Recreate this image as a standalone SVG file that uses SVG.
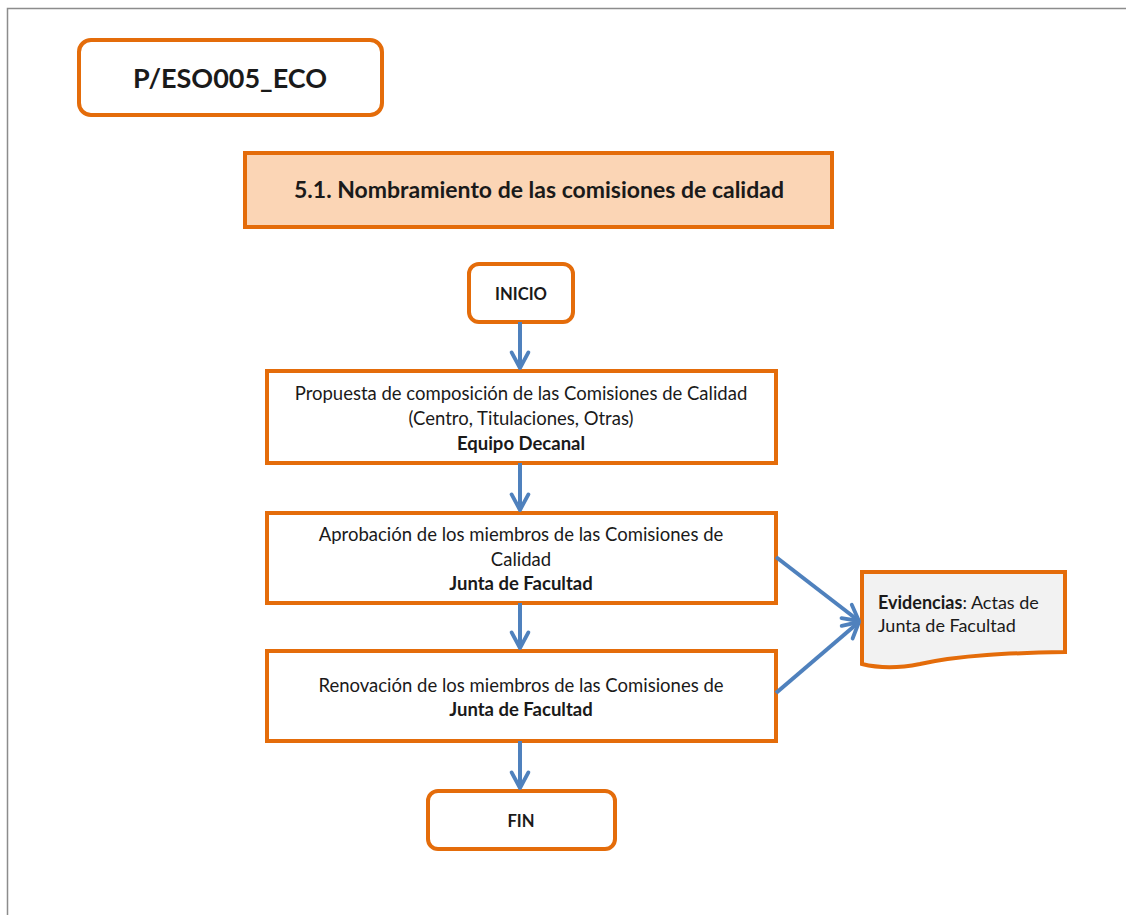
<svg xmlns="http://www.w3.org/2000/svg" width="1126" height="915" viewBox="0 0 1126 915">
<defs>
<marker id="arr" viewBox="0 0 20 20" refX="17" refY="10" markerWidth="6" markerHeight="6" markerUnits="strokeWidth" orient="auto">
<polyline points="4,3 17,10 4,17" fill="none" stroke="#4F81BD" stroke-width="3.2" stroke-linecap="round" stroke-linejoin="round"/>
</marker>
<style>
.box{fill:#fff;stroke:#E46C0A;stroke-width:4}
.t{font-family:"Lato","Liberation Sans",sans-serif;font-size:18.5px;fill:#1a1a1a;text-anchor:middle}
.b{font-weight:bold}
.c{fill:none;stroke:#4F81BD;stroke-width:4;marker-end:url(#arr)}
</style>
</defs>
<rect width="1126" height="915" fill="#fff"/>
<path d="M7.5,915 V8.5 H1126" fill="none" stroke="#8c8c8c" stroke-width="1.5"/>

<g id="code">
<rect class="box" x="79" y="40" width="303" height="75" rx="12"/>
<text class="t b" x="230" y="88" style="font-size:27px">P/ESO005_ECO</text>
</g>
<g id="title">
<rect x="245" y="153" width="587" height="74" fill="#FBD5B5" stroke="#E46C0A" stroke-width="4"/>
<text class="t b" x="539" y="198" style="font-size:23px">5.1. Nombramiento de las comisiones de calidad</text>
</g>
<g id="inicio">
<rect class="box" x="469" y="264" width="104" height="58" rx="10"/>
<text class="t b" x="521" y="300" style="font-size:16.6px">INICIO</text>
</g>
<g id="propuesta">
<rect class="box" x="267" y="371" width="509" height="92"/>
<text class="t" x="521" y="400">Propuesta de composición de las Comisiones de Calidad</text>
<text class="t" x="521" y="425">(Centro, Titulaciones, Otras)</text>
<text class="t b" x="521" y="450">Equipo Decanal</text>
</g>
<g id="aprobacion">
<rect class="box" x="267" y="513" width="509" height="90"/>
<text class="t" x="521" y="541">Aprobación de los miembros de las Comisiones de</text>
<text class="t" x="521" y="566">Calidad</text>
<text class="t b" x="521" y="590">Junta de Facultad</text>
</g>
<g id="renovacion">
<rect class="box" x="267" y="651" width="509" height="90"/>
<text class="t" x="521" y="692">Renovación de los miembros de las Comisiones de</text>
<text class="t b" x="521" y="716">Junta de Facultad</text>
</g>
<g id="fin">
<rect class="box" x="428" y="791" width="187" height="58" rx="10"/>
<text class="t b" x="521" y="827" style="font-size:16.6px">FIN</text>
</g>
<g id="evidencias">
<path d="M862,572 H1065 V652 C1010,653 960,655 920,664 C895,669 878,668 862,664 Z" fill="#F2F2F2" stroke="#E46C0A" stroke-width="4"/>
<text class="t" x="878" y="609" style="text-anchor:start;font-size:18px"><tspan class="b">Evidencias</tspan>: Actas de</text>
<text class="t" x="878" y="632" style="text-anchor:start;font-size:18px">Junta de Facultad</text>
</g>
<g id="connectors">
<line class="c" x1="520" y1="322" x2="520" y2="368"/>
<line class="c" x1="520" y1="463" x2="520" y2="510"/>
<line class="c" x1="520" y1="603" x2="520" y2="648"/>
<line class="c" x1="520" y1="741" x2="520" y2="788"/>
<line class="c" x1="776" y1="557" x2="859" y2="621"/>
<line class="c" x1="776" y1="693" x2="859" y2="622"/>
</g>
</svg>
